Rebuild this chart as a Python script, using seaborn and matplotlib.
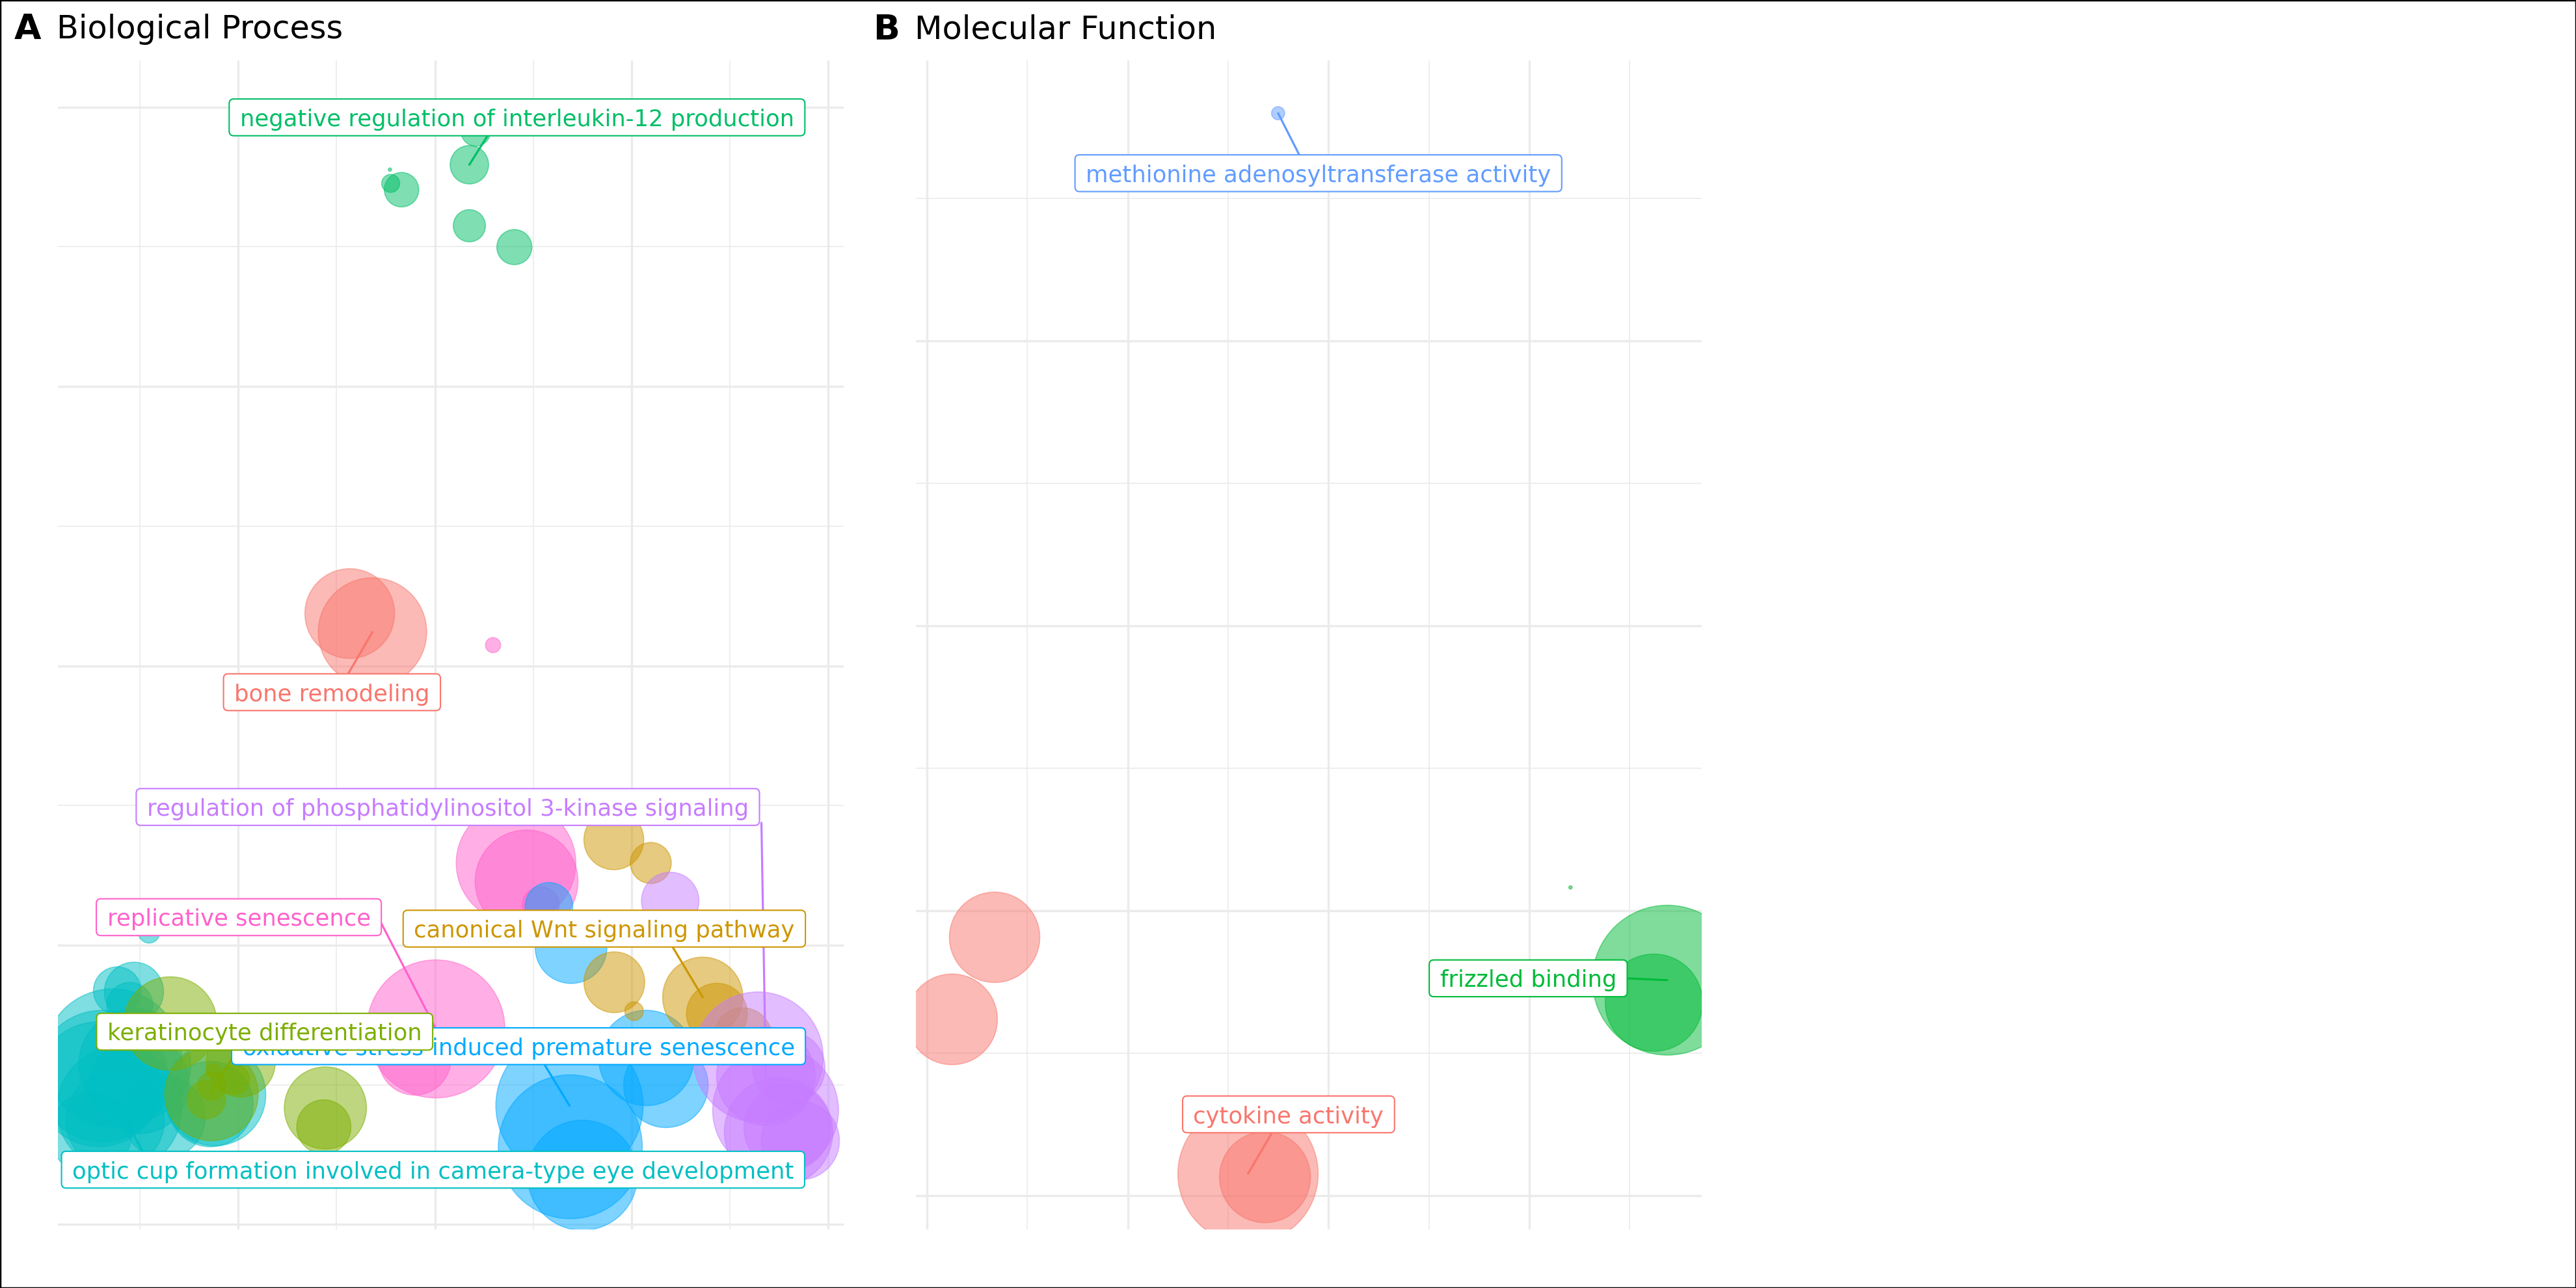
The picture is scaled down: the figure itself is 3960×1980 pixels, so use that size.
import matplotlib
matplotlib.use("Agg")
import numpy as np
import pandas as pd
import seaborn as sns
import matplotlib.pyplot as plt
from matplotlib.patches import FancyBboxPatch, Rectangle
from matplotlib.transforms import IdentityTransform, offset_copy

# ---------------- Panel A: Biological Process ----------------
bp_parents = ["bone remodeling",
              "canonical Wnt signaling pathway",
              "keratinocyte differentiation",
              "negative regulation of interleukin-12 production",
              "optic cup formation involved in camera-type eye development",
              "oxidative stress-induced premature senescence",
              "regulation of phosphatidylinositol 3-kinase signaling",
              "replicative senescence"]
bp_colors = ["#F8766D", "#CD9600", "#7CAE00", "#00BE67",
             "#00BFC4", "#00A9FF", "#C77CFF", "#FF61CC"]

bp_cluster = [3, 3, 3, 3, 3, 3, 3,
              0, 0,
              7, 7, 7, 7, 7, 7,
              5, 5, 5, 5, 5, 5, 5,
              1, 1, 1, 1, 1, 1, 1,
              6, 6, 6, 6, 6, 6, 6, 6,
              4, 4, 4, 4, 4, 4, 4, 4, 4, 4, 4, 4, 4, 4, 4,
              2, 2, 2, 2, 2, 2, 2, 2, 2]
bp_x = [-0.0457, -0.0450, -0.0339, 0.0351, 0.0416, 0.0351, 0.0809,
        -0.0866, -0.0635,
        0.0592, 0.0826, 0.0933, 0.1077, 0.0010, -0.0204,
        0.1161, 0.1386, 0.2152, 0.2351, 0.1370, 0.1378, 0.1502,
        0.1821, 0.2197, 0.1826, 0.2027, 0.2726, 0.2870, 0.3134,
        0.2395, 0.3289, 0.3368, 0.3467, 0.3498, 0.3587, 0.3719, 0.3602,
        -0.2908, -0.3232, -0.3062, -0.3104, -0.3278, -0.3421, -0.3211, -0.3003,
        -0.2239, -0.2284, -0.3505, -0.2753, -0.3388, -0.3054, -0.3254,
        -0.2692, -0.1975, -0.2273, -0.2042, -0.2268, -0.2251, -0.2326, -0.1114, -0.1130]
bp_y = [0.3553, 0.3454, 0.3409, 0.3588, 0.3827, 0.3151, 0.2998,
        0.0374, 0.0242,
        0.0148, -0.1413, -0.1544, -0.1714, -0.2600, -0.2815,
        -0.1722, -0.2018, -0.2808, -0.3004, -0.3149, -0.3444, -0.3648,
        -0.1246, -0.1412, -0.2266, -0.2473, -0.2373, -0.2491, -0.2655,
        -0.1684, -0.2801, -0.2938, -0.3182, -0.3338, -0.3306, -0.3400, -0.2879,
        -0.1909, -0.2326, -0.2334, -0.2432, -0.2808, -0.2996, -0.3173, -0.2996,
        -0.3072, -0.3138, -0.3349, -0.3232, -0.2938, -0.2855, -0.3255,
        -0.2561, -0.2840, -0.3066, -0.2961, -0.3008, -0.2902, -0.3107, -0.3166, -0.3302]
bp_size = [1, 30, 110, 137, 81, 96, 114,
           745, 1089,
           21, 1325, 980, 125, 1764, 484,
           210, 475, 841, 660, 2007, 1918, 1122,
           331, 156, 342, 32, 595, 342, 306,
           306, 1568, 900, 1467, 1089, 697, 566, 484,
           42, 210, 324, 196, 1764, 1444, 1444, 900, 961, 676, 625, 625,
           1600, 1156, 900,
           807, 441, 807, 85, 74, 21, 135, 625, 272]

bp_lab_cluster = [3, 0, 6, 7, 1, 5, 2, 4]
bp_lab_x = [0.0836, -0.1047, 0.0132, -0.1995, 0.1724, 0.0851, -0.1732, -0.0018]
bp_lab_y = [0.3927, -0.0189, -0.1011, -0.1800, -0.1882, -0.2724, -0.2620, -0.3608]
bp_seg_x = [0.0535, -0.0883, 0.3323, -0.0545, 0.2420, 0.1115, -0.2017, -0.2977]
bp_seg_y = [0.3794, -0.0058, -0.1124, -0.1844, -0.2014, -0.2855, -0.2749, -0.3473]
bp_lab_point = [3, 8, 31, 13, 26, 19, 54, 43]

# ---------------- Panel B: Molecular Function ----------------
mf_parents = ["cytokine activity", "frizzled binding",
              "methionine adenosyltransferase activity"]
mf_colors = ["#F8766D", "#00BA38", "#619CFF"]
mf_cluster = [2, 0, 0, 0, 0, 1, 1, 1]
mf_x = [-0.0502, -0.3327, -0.3751, -0.0802, -0.0633, 0.2411, 0.3376, 0.3242]
mf_y = [0.3600, -0.2185, -0.2761, -0.3845, -0.3869, -0.1835, -0.2486, -0.2644]
mf_size = [16, 756, 762, 1823, 767, 1, 2079, 876]
mf_lab_cluster = [2, 0, 1]
mf_lab_x = [-0.0101, -0.0398, 0.1990]
mf_lab_y = [0.3179, -0.3428, -0.2473]
mf_seg_x = [-0.0290, -0.0568, 0.2961]
mf_seg_y = [0.3306, -0.3563, -0.2473]
mf_lab_point = [0, 3, 6]

sns.set_theme(style="white")
plt.rcParams["font.family"] = ["DejaVu Sans"]

W, H = 3960, 1980
fig = plt.figure(figsize=(W / 100, H / 100), dpi=100)
fig.patch.set_facecolor("white")

GRID = "#EBEBEB"
SIZE_MAX = 2500
AREA_PER_UNIT = 13.226   # points^2 per size unit


def setup_axes(rect, xmaj, xmin, ymaj, ymin):
    ax = fig.add_axes(rect)
    ax.set_facecolor("white")
    ax.set_xticks(xmaj)
    ax.set_xticks(xmin, minor=True)
    ax.set_yticks(ymaj)
    ax.set_yticks(ymin, minor=True)
    ax.grid(True, which="major", color=GRID, lw=2.4)
    ax.grid(True, which="minor", color=GRID, lw=1.2)
    ax.set_axisbelow(True)
    ax.tick_params(which="both", length=0, labelbottom=False, labelleft=False)
    for s in ax.spines.values():
        s.set_visible(False)
    return ax


def draw_panel(ax, names, colors, cluster, xs, ys, sizes, xlim, ylim):
    df = pd.DataFrame({"V1": xs, "V2": ys, "size": sizes,
                       "parent": [names[c] for c in cluster]})
    pal = dict(zip(names, colors))
    sns.scatterplot(data=df, x="V1", y="V2", hue="parent", size="size",
                    hue_order=names, palette=pal,
                    sizes=(0, AREA_PER_UNIT * SIZE_MAX), size_norm=(0, SIZE_MAX),
                    alpha=0.5, edgecolor="face", linewidth=1.2,
                    legend=False, ax=ax)
    ax.set_xlim(*xlim)
    ax.set_ylim(*ylim)
    ax.set_xlabel("")
    ax.set_ylabel("")


PADX = 16.5
BOXH = 56.5
RS = 7.0
FS_LAB = 25.5


def draw_labels(ax, names, colors, lab_cluster, lab_x, lab_y, seg_x, seg_y,
                lab_point, px, py):
    renderer = fig.canvas.get_renderer()
    text_tr = offset_copy(ax.transData, fig=fig, x=0, y=-13.5, units="dots")
    for i, c in enumerate(lab_cluster):
        col = colors[c]
        p = lab_point[i]
        ax.plot([seg_x[i], px[p]], [seg_y[i], py[p]], color=col, lw=2.3,
                solid_capstyle="round", zorder=5)
        t = ax.text(lab_x[i], lab_y[i], names[c], transform=text_tr,
                    ha="center", va="baseline", fontsize=FS_LAB, color=col,
                    zorder=11 + 2 * i, clip_on=False)
        w = t.get_window_extent(renderer=renderer).width
        cx, cy = ax.transData.transform((lab_x[i], lab_y[i]))
        box = FancyBboxPatch((cx - w / 2 - PADX, cy - BOXH / 2),
                             w + 2 * PADX, BOXH,
                             boxstyle=f"round,pad=0,rounding_size={RS}",
                             transform=IdentityTransform(), fc="white",
                             ec=col, lw=1.5, zorder=10 + 2 * i, clip_on=False)
        ax.add_patch(box)


# Panel A
xlimA = (-0.3836, 0.4157)
ylimA = (-0.4036, 0.4336)
axA = setup_axes([89 / W, 1 - 1890 / H, 1207.5 / W, 1797.4 / H],
                 [-0.2, 0.0, 0.2, 0.4], [-0.3, -0.1, 0.1, 0.3],
                 [-0.4, -0.2, 0.0, 0.2, 0.4], [-0.3, -0.1, 0.1, 0.3])
draw_panel(axA, bp_parents, bp_colors, bp_cluster, bp_x, bp_y, bp_size, xlimA, ylimA)

# Panel B
xlimB = (-0.4113, 0.3720)
ylimB = (-0.4236, 0.3972)
axB = setup_axes([1407.7 / W, 1 - 1890 / H, 1208.5 / W, 1797.4 / H],
                 [-0.4, -0.2, 0.0, 0.2], [-0.3, -0.1, 0.1, 0.3],
                 [-0.4, -0.2, 0.0, 0.2], [-0.3, -0.1, 0.1, 0.3])
draw_panel(axB, mf_parents, mf_colors, mf_cluster, mf_x, mf_y, mf_size, xlimB, ylimB)

draw_labels(axA, bp_parents, bp_colors, bp_lab_cluster, bp_lab_x, bp_lab_y,
            bp_seg_x, bp_seg_y, bp_lab_point, bp_x, bp_y)
draw_labels(axB, mf_parents, mf_colors, mf_lab_cluster, mf_lab_x, mf_lab_y,
            mf_seg_x, mf_seg_y, mf_lab_point, mf_x, mf_y)

# Titles and tags
fig.text(87 / W, 1 - 59 / H, "Biological Process", fontsize=35.5,
         ha="left", va="baseline", color="black")
fig.text(22 / W, 1 - 60 / H, "A", fontsize=38.6, fontweight="bold",
         ha="left", va="baseline", color="black")
fig.text(1406 / W, 1 - 59 / H, "Molecular Function", fontsize=35.5,
         ha="left", va="baseline", color="black")
fig.text(1342 / W, 1 - 60 / H, "B", fontsize=38.6, fontweight="bold",
         ha="left", va="baseline", color="black")

# outer frame
fig.add_artist(Rectangle((0, 0), 1, 1, transform=fig.transFigure, fill=False,
                         ec="black", lw=2.5, zorder=100))

fig.savefig("out.png", dpi=100, facecolor="white")
